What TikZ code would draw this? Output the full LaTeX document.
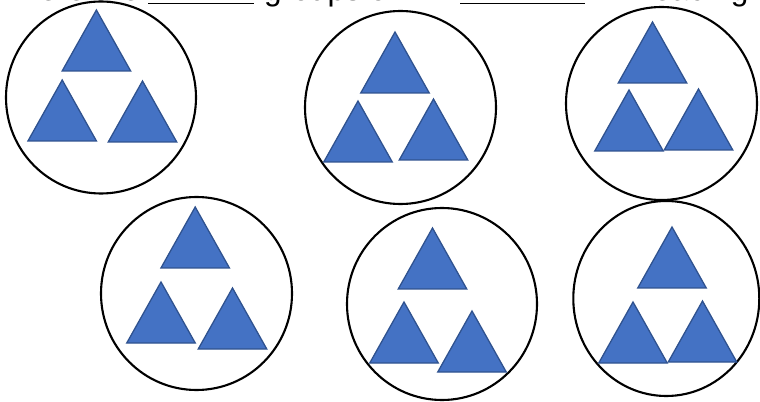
\documentclass[tikz,border=0pt]{standalone}
\usepackage{fontspec}
\setmainfont{Liberation Sans}
\definecolor{triblue}{RGB}{68,114,196}
\definecolor{triedge}{RGB}{47,82,143}
\usetikzlibrary{positioning}
\tikzset{
	ring/.style={draw=black, line width=1.8pt},
	tri/.style={fill=triblue, draw=triedge, line width=1.1pt, line join=miter},
	blank/.style={draw=black, line width=1.4pt},
	prompt/.style={inner sep=0pt, font=\fontsize{27pt}{32pt}\selectfont},
}

\begin{document}
\begin{tikzpicture}[x=0.03cm, y=-0.03cm]
		\useasboundingbox (0,0) rectangle (760,402);
		% question line, cut off at the top edge
		\node[prompt, anchor=base east] (lead) at (140,0.8) {There are};
		\coordinate (blankA) at (148,3.4);
		\coordinate (blankAend) at (254,3.4);
		\draw[blank] (blankA) -- (blankAend);
		\node[prompt, anchor=base west] (mid) at (264,0.8) {groups of};
		\coordinate (blankB) at (460,3.4);
		\coordinate (blankBend) at (585,3.4);
		\draw[blank] (blankB) -- (blankBend);
		\node[prompt, anchor=base west] (tail) at (620,0.8) {in each group};
		% the six groups
		\foreach \cx/\cy/\rx/\ry in {101/97.5/95/96, 400.5/107.5/95.5/96.5, 661.5/103.5/95.5/96.5,
			196.5/293.5/95.5/96.5, 442/304/95/96, 666.3/298.5/93/97.5}
			\draw[ring] (\cx,\cy) ellipse [x radius=\rx, y radius=\ry];
		% three triangles in each group (apex points)
		\foreach \ax/\ay in {96.4/10, 62.2/80, 142.5/81,
			395/32, 358/101, 433.5/99,
			652.5/22, 629/90, 698.5/89,
			195.2/207, 161/282, 232.5/288,
			432.5/228, 404/302, 472/311,
			672/227, 633/302, 702.5/301}
			\draw[tri] (\ax,\ay) -- ++(34.25,61) -- ++(-68.5,0) -- cycle;
	\end{tikzpicture}
\end{document}
